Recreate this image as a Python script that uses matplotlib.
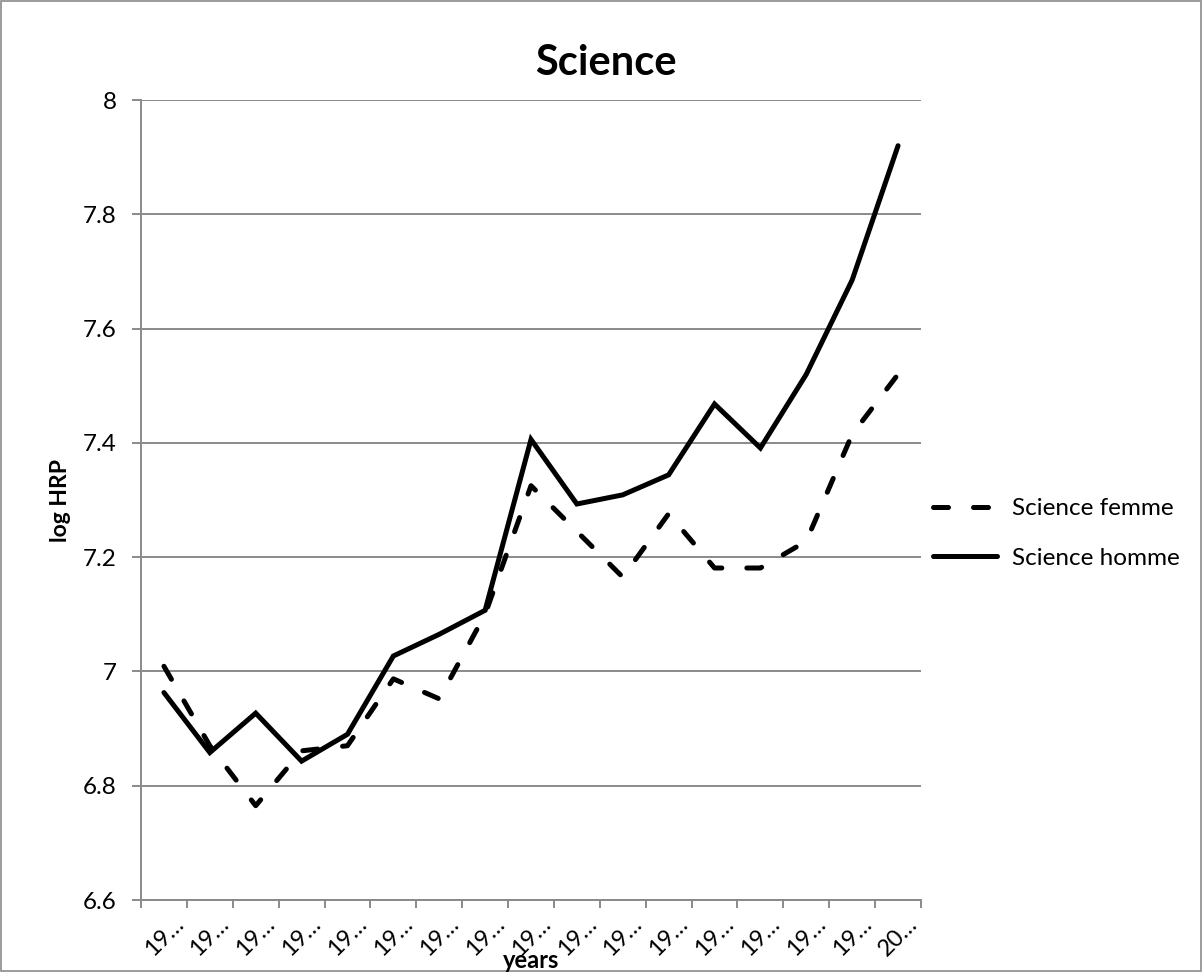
import matplotlib.pyplot as plt

# log HRP par année
years = ["19…"] * 16 + ["20…"]
femme = [7.009, 6.87, 6.765, 6.861, 6.87, 6.987, 6.952, 7.10, 7.325, 7.245,
         7.165, 7.276, 7.181, 7.181, 7.228, 7.415, 7.52]
homme = [6.963, 6.858, 6.927, 6.843, 6.890, 7.027, 7.065, 7.107, 7.406, 7.293,
         7.309, 7.344, 7.468, 7.391, 7.52, 7.685, 7.92]
yticks = [6.6, 6.8, 7.0, 7.2, 7.4, 7.6, 7.8, 8.0]
ytick_labels = ["6.6", "6.8", "7", "7.2", "7.4", "7.6", "7.8", "8"]

plt.rcParams["font.family"] = ["Lato", "DejaVu Sans"]
grey = "#8a8a8a"
W, H = 1202, 972

fig = plt.figure(figsize=(W / 100, H / 100), dpi=100)
ax = fig.add_axes([141 / W, 1 - 900 / H, 780 / W, 800 / H])

x = list(range(len(years)))
ax.plot(x, femme, color="black", lw=3.6, linestyle=(0, (3.0, 5.0)),
        dash_capstyle="round", solid_joinstyle="miter", label="Science femme")
ax.plot(x, homme, color="black", lw=3.6, solid_capstyle="round",
        solid_joinstyle="miter", label="Science homme")

ax.set_xlim(-0.5, len(years) - 0.5)
ax.set_ylim(6.6, 8.0)
ax.set_yticks(yticks)
ax.set_yticklabels(ytick_labels, fontsize=17.5)
ax.set_xticks(x)
ax.set_xticklabels(years, rotation=45, ha="center", va="center",
                   rotation_mode="anchor", fontsize=17)
ax.set_xticks([i - 0.5 for i in range(len(years) + 1)], minor=True)
ax.tick_params(axis="x", which="major", length=0, pad=26)
ax.tick_params(axis="x", which="minor", length=5.5, color=grey, width=1.4)
ax.tick_params(axis="y", length=6.5, color=grey, width=1.4, pad=11)

ax.grid(axis="y", color=grey, lw=1.4)
ax.set_axisbelow(True)
for s in ["top", "right"]:
    ax.spines[s].set_visible(False)
for s in ["left", "bottom"]:
    ax.spines[s].set_color(grey)
    ax.spines[s].set_linewidth(1.4)

fig.text(606 / W, 1 - 75 / H, "Science", fontsize=30, fontweight="bold",
         ha="center", va="baseline")
fig.text(61 / W, 0.5 * (1 - 100 / H + 1 - 900 / H), "log HRP", fontsize=16.5,
         fontweight="bold", rotation=90, ha="center", va="center")
fig.text(531 / W, 1 - 968 / H, "years", fontsize=17, fontweight="bold",
         ha="center", va="baseline")

leg = fig.legend(loc="center left", bbox_to_anchor=(933 / W, 1 - 533.5 / H),
                 frameon=False, fontsize=17.5, handlelength=2.65, handletextpad=0.6,
                 labelspacing=1.17, borderaxespad=0, borderpad=0)

# cadre du graphique
fig.patches.append(plt.Rectangle((0.0008, 0.001), 0.9984, 0.998, transform=fig.transFigure,
                                 fill=False, edgecolor=grey, lw=1.2))

fig.savefig("out.png", dpi=100)
